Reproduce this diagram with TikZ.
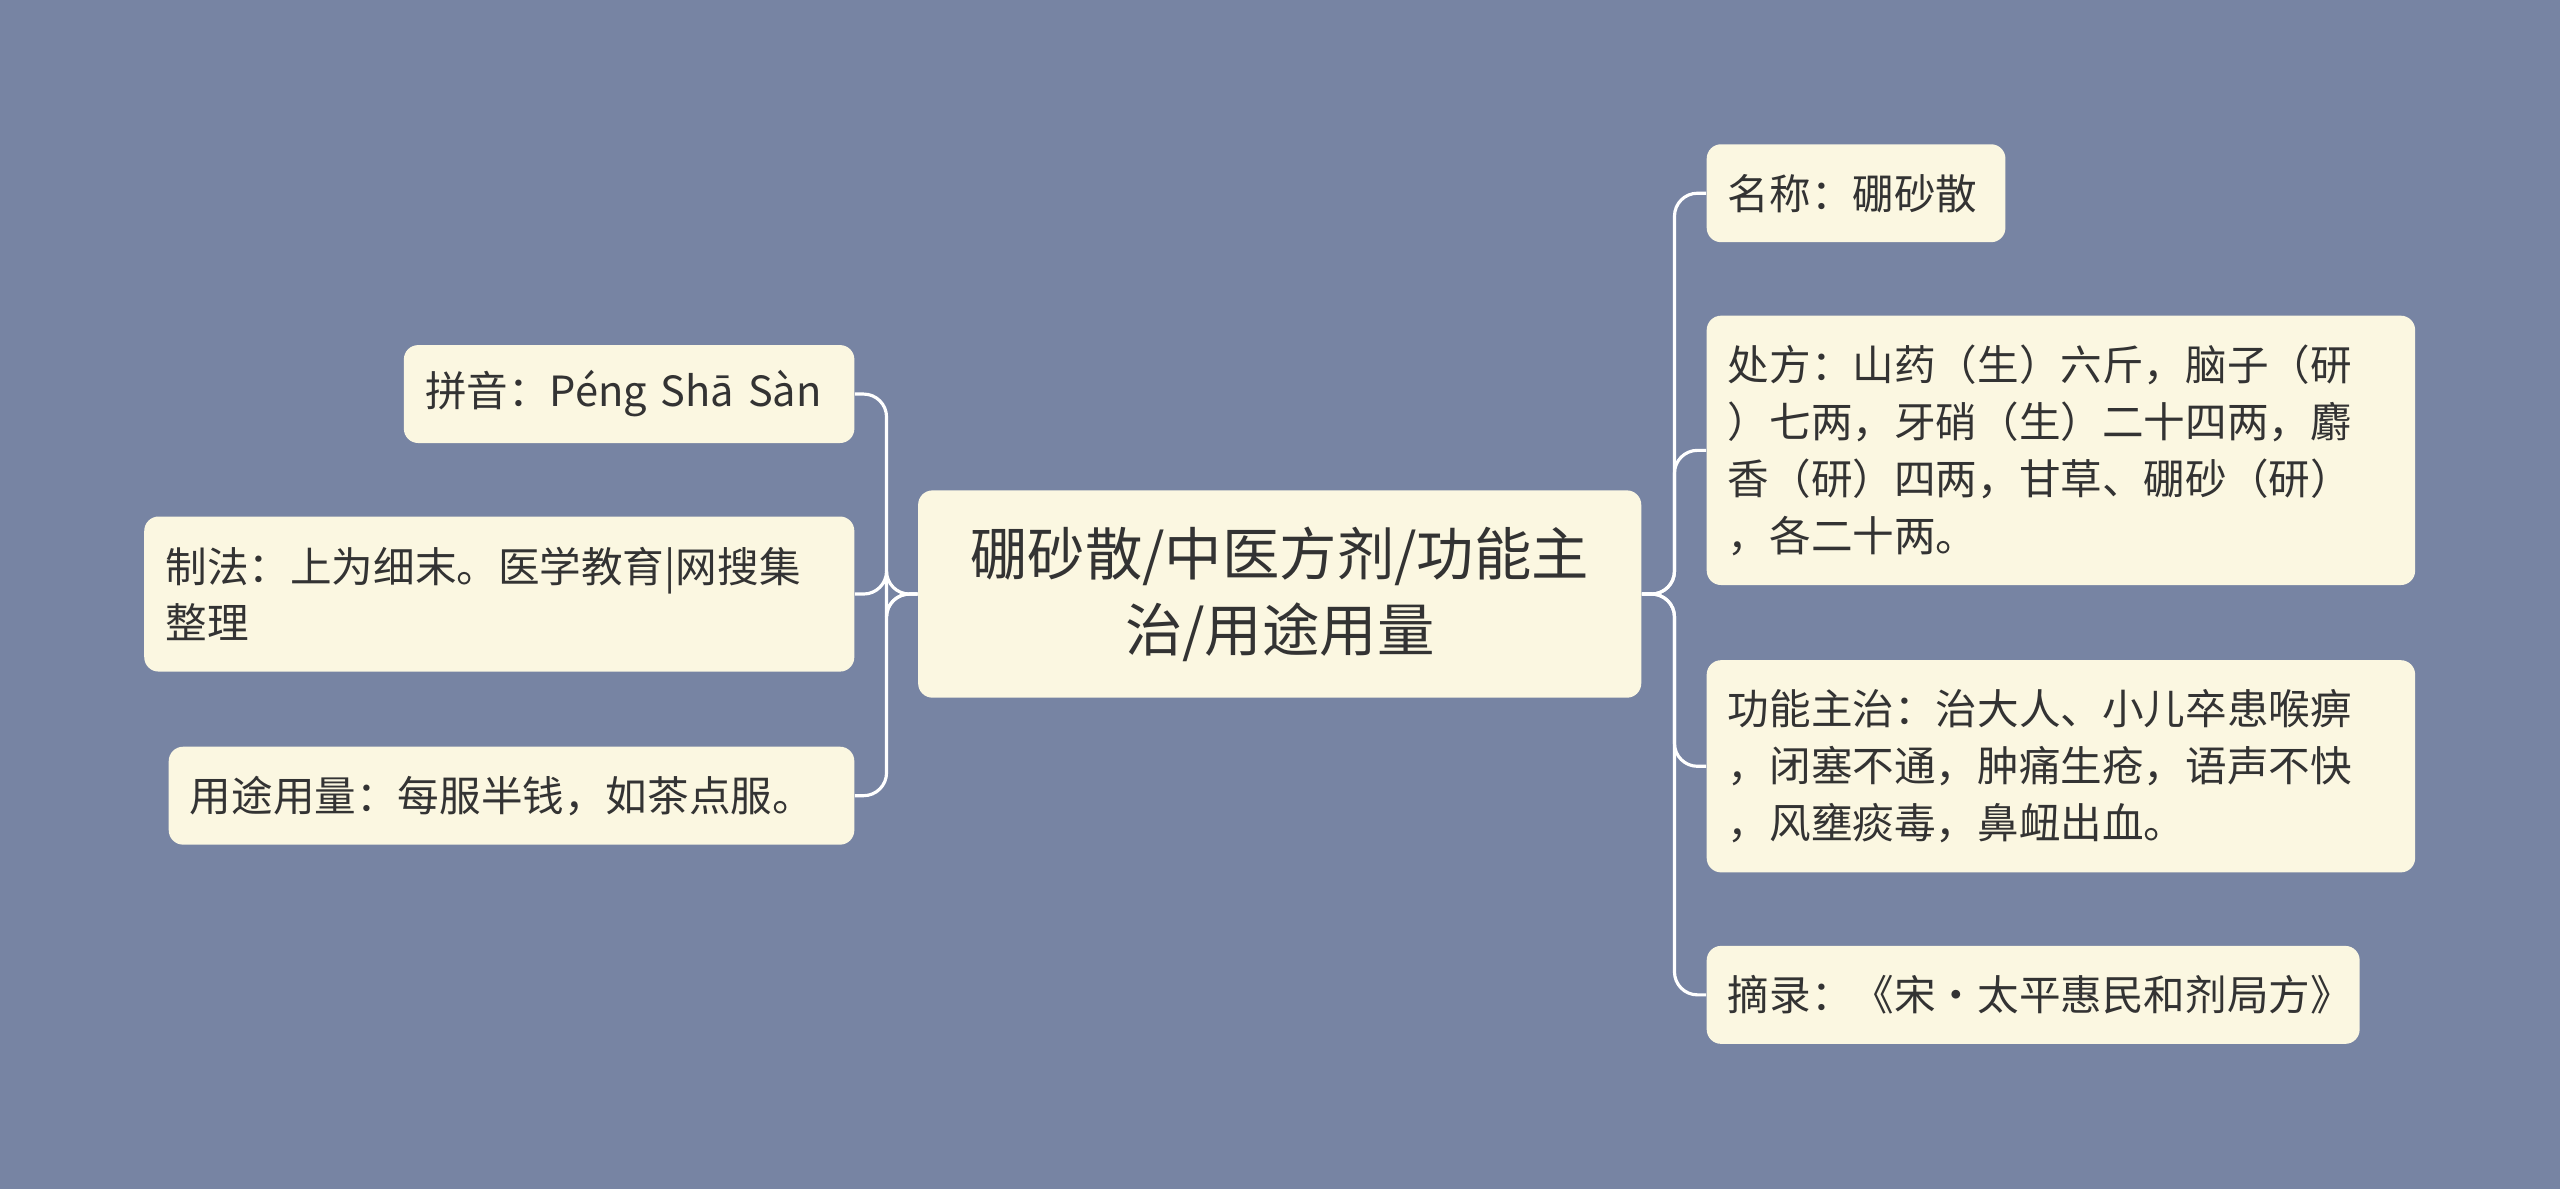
\documentclass[tikz,border=0pt]{standalone}
\usepackage{fontspec}
\setmainfont{Noto Sans CJK SC}
\definecolor{bg}{HTML}{7784A3}
\definecolor{boxc}{HTML}{FBF7E1}
\definecolor{txt}{HTML}{333333}
\begin{document}
\begin{tikzpicture}[x=0.02cm,y=-0.02cm,
  box/.style={fill=boxc,rounded corners=5pt,anchor=north west,inner xsep=0.26cm,inner ysep=0pt,align=left,text=txt,font=\fontsize{14.5pt}{19.8pt}\selectfont},
  conn/.style={draw=white,line width=1.1pt,rounded corners=8pt}]
\fill[bg] (0,0) rectangle (1568,728);
\useasboundingbox (0,0) rectangle (1568,728);
\node[fill=boxc,rounded corners=5pt,anchor=north west,minimum width=8.86cm,minimum height=2.54cm,align=center,text=txt,font=\fontsize{20pt}{26.6pt}\selectfont] (c) at (562,300) {硼砂散/中医方剂/功能主\\治/用途用量};
\node[box,minimum height=1.2cm,text width=5.0cm] (l1) at (247,211) {拼音：Péng Shā Sàn};
\node[box,minimum height=1.9cm,text width=8.18cm] (l2) at (88,316) {制法：上为细末。医学教育|网搜集\\整理};
\node[box,minimum height=1.2cm,text width=7.88cm] (l3) at (103,457) {用途用量：每服半钱，如茶点服。};
\node[box,minimum height=1.2cm,text width=3.14cm] (r1) at (1045,88) {名称：硼砂散};
\node[box,minimum height=3.3cm,text width=8.16cm] (r2) at (1045,193) {处方：山药（生）六斤，脑子（研\\）七两，牙硝（生）二十四两，麝\\香（研）四两，甘草、硼砂（研）\\，各二十两。};
\node[box,minimum height=2.6cm,text width=8.16cm] (r3) at (1045,404) {功能主治：治大人、小儿卒患喉痹\\，闭塞不通，肿痛生疮，语声不快\\，风壅痰毒，鼻衄出血。};
\node[box,minimum height=1.2cm,text width=7.48cm] (r4) at (1045,579) {摘录：《宋·太平惠民和剂局方》};
\foreach \n in {l1,l2,l3} \draw[conn] (c.west) -- ++(-19,0) |- (\n.east);
\foreach \n in {r1,r2,r3,r4} \draw[conn] (c.east) -- ++(20,0) |- (\n.west);
\end{tikzpicture}
\end{document}
